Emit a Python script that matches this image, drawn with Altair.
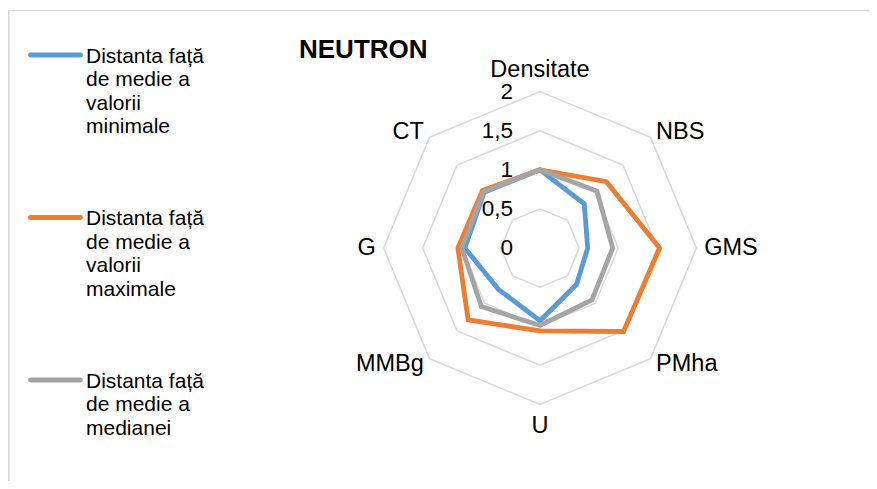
import altair as alt
import pandas as pd

# ---------------- data ----------------
categories = ["Densitate", "NBS", "GMS", "PMha", "U", "MMBg", "G", "CT"]
series_names = [
    "Distanta față de medie a valorii minimale",
    "Distanta față de medie a valorii maximale",
    "Distanta față de medie a medianei",
]
legend_texts = [
    "Distanta față\nde medie a\nvalorii\nminimale",
    "Distanta față\nde medie a\nvalorii\nmaximale",
    "Distanta față\nde medie a\nmedianei",
]
min_vals = [1.00, 0.80, 0.61, 0.66, 0.93, 0.75, 0.96, 1.01]
max_vals = [1.00, 1.20, 1.53, 1.51, 1.06, 1.30, 1.05, 1.04]
med_vals = [1.00, 1.03, 0.93, 0.94, 0.99, 1.06, 1.00, 1.02]
ring_levels = [0.5, 1.0, 1.5, 2.0]
tick_values = [0, 0.5, 1, 1.5, 2]
tick_labels = ["0", "0,5", "1", "1,5", "2"]
title_text = "NEUTRON"

# ---------------- styling ----------------
colors = ["#5B9BD5", "#ED7D31", "#A5A5A5"]
grid_color = "#D9D9D9"
FONT = "Liberation Sans"
W, H = 861, 473
CX, CY = 532, 240
PPU = 78.2
n = len(categories)

xs = alt.Scale(domain=[-CX / PPU, (W - CX) / PPU], nice=False, zero=False)
ys = alt.Scale(domain=[-(H - CY) / PPU, CY / PPU], nice=False, zero=False)

# ---------------- tables ----------------
rows = []
for s, vals in zip(series_names, [min_vals, max_vals, med_vals]):
    for k in range(n + 1):
        rows.append({"series": s, "idx": k, "cat": categories[k % n], "value": vals[k % n]})
series_df = pd.DataFrame(rows)

ring_rows = []
for lv in ring_levels:
    for k in range(n + 1):
        ring_rows.append({"level": lv, "idx": k, "value": lv})
ring_df = pd.DataFrame(ring_rows)

tick_df = pd.DataFrame({"value": tick_values, "label": tick_labels})
cat_df = pd.DataFrame({"idx": list(range(n)), "cat": categories})
legend_df = pd.DataFrame({"i": list(range(len(series_names))), "series": series_names, "text": legend_texts})

polar = dict(
    ang=f"datum.idx * 2 * PI / {n}",
    px="datum.value * sin(datum.ang)",
    py="datum.value * cos(datum.ang)",
)

X = alt.X("px:Q", scale=xs, axis=None)
Y = alt.Y("py:Q", scale=ys, axis=None)

layers = []

# border of chart area
layers.append(
    alt.Chart(pd.DataFrame({"a": [0]})).mark_rule(color=grid_color, strokeWidth=1.6).encode(
        x=alt.value(0), x2=alt.value(W), y=alt.value(2.5)
    )
)
layers.append(
    alt.Chart(pd.DataFrame({"a": [0]})).mark_rule(color=grid_color, strokeWidth=1.6).encode(
        x=alt.value(0.8), y=alt.value(2.5), y2=alt.value(H)
    )
)

# rings
layers.append(
    alt.Chart(ring_df).transform_calculate(**polar).mark_line(
        color=grid_color, strokeWidth=1.5
    ).encode(x=X, y=Y, detail="level:N", order="idx:Q")
)

# series lines
for s, c in zip(series_names, colors):
    layers.append(
        alt.Chart(series_df).transform_filter(alt.datum.series == s).transform_calculate(**polar)
        .mark_line(color=c, strokeWidth=4.8, strokeCap="round")
        .encode(x=X, y=Y, order="idx:Q")
    )

# value tick labels
layers.append(
    alt.Chart(tick_df).transform_calculate(px="0", py="datum.value").mark_text(
        align="right", baseline="middle", dx=-27, fontSize=22.5, font=FONT, color="#000000"
    ).encode(x=X, y=Y, text="label:N")
)

# category labels
cat_base = alt.Chart(cat_df).transform_calculate(
    ang=f"datum.idx * 2 * PI / {n}",
    r="abs(cos(datum.ang)) > 0.9 ? 2.28 : 2.1",
    s="sin(datum.ang)",
    px="datum.r * sin(datum.ang)",
    py="datum.r * cos(datum.ang)",
)
for cond, al in [("datum.s > 0.1", "left"), ("datum.s < -0.1", "right"), ("abs(datum.s) <= 0.1", "center")]:
    layers.append(
        cat_base.transform_filter(cond).mark_text(
            align=al, baseline="middle", fontSize=23.5, font=FONT, color="#000000"
        ).encode(x=X, y=Y, text="cat:N")
    )

# title
layers.append(
    alt.Chart(pd.DataFrame({"t": [title_text]})).mark_text(
        align="left", baseline="middle", fontSize=26, fontWeight="bold", font=FONT, color="#000000"
    ).encode(x=alt.value(291), y=alt.value(41.5), text="t:N")
)

# legend (manual)
leg = alt.Chart(legend_df).transform_calculate(
    ly="47 + datum.i * 162.5", ty="47 + datum.i * 162.5 - 9.5"
)
layers.append(
    leg.mark_rule(strokeWidth=4.8, strokeCap="round").encode(
        x=alt.value(22.5), x2=alt.value(72.5), y=alt.Y("ly:Q", scale=None, axis=None),
        color=alt.Color("series:N", scale=alt.Scale(domain=series_names, range=colors), legend=None),
    )
)
layers.append(
    leg.mark_text(
        align="left", baseline="top", lineBreak="\n", lineHeight=23.5, fontSize=21, font=FONT, color="#000000"
    ).encode(x=alt.value(78), y=alt.Y("ty:Q", scale=None, axis=None), text="text:N")
)

chart = alt.layer(*layers).properties(
    width=W, height=H, autosize=alt.AutoSizeParams(type="none"), padding=0
).configure_view(strokeWidth=0)

chart.save("out.html", embed_options={"renderer": "svg", "actions": False})
